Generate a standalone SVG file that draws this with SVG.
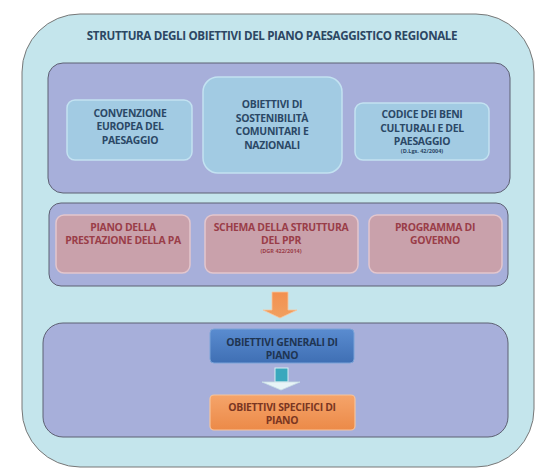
<svg xmlns="http://www.w3.org/2000/svg" width="540" height="471" viewBox="0 0 540 471">
<defs>
<linearGradient id="gBlue" x1="0" y1="0" x2="0" y2="1"><stop offset="0" stop-color="#5a8cd0"/><stop offset="1" stop-color="#3f6fb4"/></linearGradient>
<linearGradient id="gOrange" x1="0" y1="0" x2="0" y2="1"><stop offset="0" stop-color="#f5a46a"/><stop offset="1" stop-color="#ec8a48"/></linearGradient>
<linearGradient id="gArrowO" x1="0" y1="0" x2="0" y2="1"><stop offset="0" stop-color="#f39050"/><stop offset="1" stop-color="#f0a060"/></linearGradient>
</defs>
<style>
.t{font-family:"Open Sans","Noto Sans","Liberation Sans",sans-serif;font-weight:700;text-anchor:middle}
.title{font-size:11.6px;fill:#2c4763;letter-spacing:-0.35px}
.bt{font-size:10.4px;fill:#2b4866;letter-spacing:-0.3px}
.rt{font-size:10.4px;fill:#9a3d48;letter-spacing:-0.3px}
.sm{font-size:5.5px;letter-spacing:0}
.panel{fill:#a7afda;stroke:#5d6072;stroke-width:1}
.lb{fill:#a2cbe3;stroke:#c3e2f1;stroke-width:1.5}
.pk{fill:#c9a1ab;stroke:#e3c6cd;stroke-width:1.5}
</style>
<g id="outer">
<rect x="22" y="14" width="512" height="453" rx="58" ry="58" fill="#c4e5ec" stroke="#777" stroke-width="1"/>
<text class="t title" x="272" y="40">STRUTTURA DEGLI OBIETTIVI DEL PIANO PAESAGGISTICO REGIONALE</text>
</g>
<g id="panel1"><rect class="panel" x="48" y="63" width="462" height="130" rx="15"/></g>
<g id="panel2"><rect class="panel" x="49" y="203" width="459" height="83" rx="12"/></g>
<g id="panel3"><rect class="panel" x="43" y="323" width="465" height="114" rx="20"/></g>

<g id="convenzione">
<rect class="lb" x="67" y="100" width="125" height="60" rx="8"/>
<text class="t bt" x="130" y="117">CONVENZIONE</text>
<text class="t bt" x="130" y="130">EUROPEA DEL</text>
<text class="t bt" x="130" y="144">PAESAGGIO</text>
</g>
<g id="sostenibilita">
<rect class="lb" x="203" y="77" width="139" height="96" rx="15"/>
<text class="t bt" x="272" y="108">OBIETTIVI DI</text>
<text class="t bt" x="272" y="122">SOSTENIBILITÀ</text>
<text class="t bt" x="272" y="135">COMUNITARI E</text>
<text class="t bt" x="272" y="149">NAZIONALI</text>
</g>
<g id="codice">
<rect class="lb" x="355" y="103" width="134" height="57" rx="8"/>
<text class="t bt" x="422" y="118">CODICE DEI BENI</text>
<text class="t bt" x="422" y="132">CULTURALI E DEL</text>
<text class="t bt" x="422" y="145">PAESAGGIO</text>
<text class="t bt sm" x="422" y="153">(D.Lgs. 42/2004)</text>
</g>

<g id="piano-prestazione">
<rect class="pk" x="56" y="215" width="134" height="58" rx="8"/>
<text class="t rt" x="123" y="231">PIANO DELLA</text>
<text class="t rt" x="123" y="244">PRESTAZIONE DELLA PA</text>
</g>
<g id="schema">
<rect class="pk" x="205" y="215" width="153" height="58" rx="8"/>
<text class="t rt" x="281" y="231">SCHEMA DELLA STRUTTURA</text>
<text class="t rt" x="281" y="244">DEL PPR</text>
<text class="t rt sm" x="281" y="253">(DGR 422/2014)</text>
</g>
<g id="programma">
<rect class="pk" x="369" y="215" width="133" height="58" rx="8"/>
<text class="t rt" x="435" y="231">PROGRAMMA DI</text>
<text class="t rt" x="435" y="244">GOVERNO</text>
</g>

<g id="connectors">
<polygon points="272,292 288,292 288,310 297,310 280,318 263,310 272,310" fill="url(#gArrowO)" stroke="#f7c7a0" stroke-width="0.8"/>
<rect x="275" y="368" width="13" height="14" fill="#3aa8bd" stroke="#d8eef2" stroke-width="1"/>
<polygon points="262,382 300,382 281,390" fill="#e8f4f7" stroke="#c8dfe6" stroke-width="0.8"/>
</g>

<g id="obiettivi-generali">
<rect x="210" y="329" width="144" height="34" rx="4" fill="url(#gBlue)" stroke="#7aa3d8" stroke-width="1"/>
<text class="t bt" x="282" y="346" style="fill:#1f3552">OBIETTIVI GENERALI DI</text>
<text class="t bt" x="282" y="359" style="fill:#1f3552">PIANO</text>
</g>
<g id="obiettivi-specifici">
<rect x="210" y="395" width="145" height="35" rx="4" fill="url(#gOrange)" stroke="#f6c49c" stroke-width="1.2"/>
<text class="t bt" x="282" y="411" style="fill:#7a3622">OBIETTIVI SPECIFICI DI</text>
<text class="t bt" x="282" y="424" style="fill:#7a3622">PIANO</text>
</g>
</svg>
